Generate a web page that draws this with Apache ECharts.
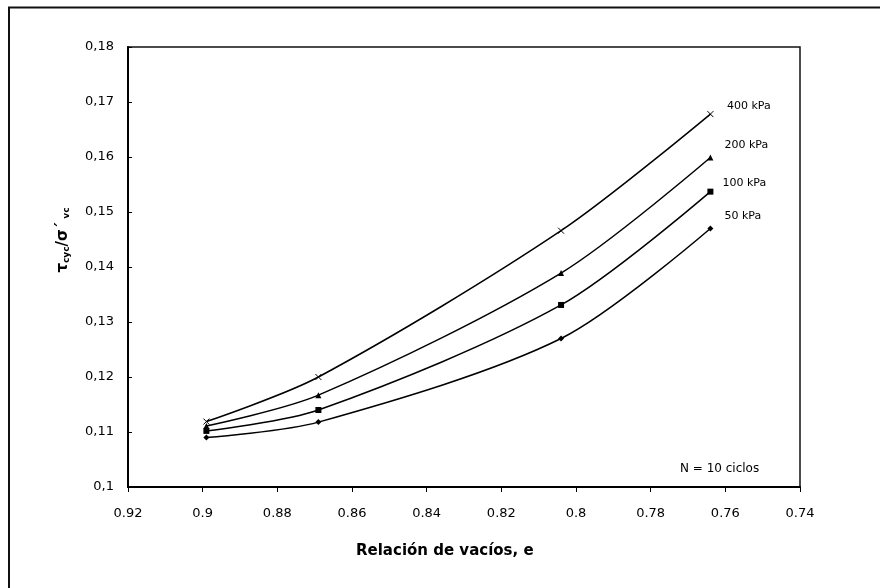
<!DOCTYPE html>
<html>
<head>
<meta charset="utf-8">
<script src="https://cdn.jsdelivr.net/npm/echarts@6/dist/echarts.min.js"></script>
<style>
  html, body { margin: 0; padding: 0; background: #fff; }
  #container { width: 880px; height: 588px; }
</style>
</head>
<body>
<div id="container"></div>
<script>
// void ratio e (x) and cyclic stress ratio for each confining pressure
var voidRatio = [0.899, 0.869, 0.804, 0.764];
var ratio400 = [0.1119, 0.1200, 0.1466, 0.1678];
var ratio200 = [0.1111, 0.1167, 0.1389, 0.1599];
var ratio100 = [0.1102, 0.1140, 0.1331, 0.1537];
var ratio50  = [0.1090, 0.1118, 0.1270, 0.1470];
var seriesNames = ['400 kPa', '200 kPa', '100 kPa', '50 kPa'];
var yTickLabels = ['0,1', '0,11', '0,12', '0,13', '0,14', '0,15', '0,16', '0,17', '0,18'];

var dom = document.getElementById('container');
var myChart = echarts.init(dom, null, { renderer: 'canvas' });

function pairs(ys, labelOffset) {
  return ys.map(function (y, i) {
    var p = { value: [voidRatio[i], y] };
    if (i === ys.length - 1) {
      p.label = { show: true, position: 'right', offset: labelOffset };
    }
    return p;
  });
}

var crossPath = 'path://M0,0L10,10M10,0L0,10';

function lineSeries(name, ys, symbol, size, offset, hollow) {
  return {
    name: name,
    type: 'line',
    smooth: 0.3,
    data: pairs(ys, offset),
    symbol: symbol,
    symbolSize: size,
    lineStyle: { color: '#000', width: 1.5 },
    itemStyle: hollow ? { color: 'none', borderColor: '#000', borderWidth: 1 } : { color: '#000', borderWidth: 0 },
    label: {
      show: false,
      formatter: name,
      color: '#000',
      fontFamily: 'DejaVu Sans',
      fontSize: 11
    },
    emphasis: { disabled: true },
    z: 3
  };
}

var option = {
  animation: false,
  grid: {
    left: 128, right: 80, top: 47, bottom: 101,
    show: true, borderColor: '#111', borderWidth: 1.5
  },
  xAxis: {
    type: 'value',
    min: 0.74, max: 0.92, interval: 0.02,
    inverse: true,
    axisLine: { lineStyle: { color: '#000', width: 2 } },
    axisTick: { show: true, inside: false, length: 5, lineStyle: { color: '#000' } },
    splitLine: { show: false },
    axisLabel: {
      color: '#000', fontFamily: 'DejaVu Sans', fontSize: 13, margin: 20,
      formatter: function (v) { return String(Math.round(v * 100) / 100); }
    }
  },
  yAxis: {
    type: 'value',
    min: 0.1, max: 0.18, interval: 0.01,
    axisLine: { show: true, lineStyle: { color: '#000', width: 2 } },
    axisTick: { show: true, inside: true, length: 4, lineStyle: { color: '#000' } },
    splitLine: { show: false },
    axisLabel: {
      color: '#000', fontFamily: 'DejaVu Sans', fontSize: 13, margin: 14,
      formatter: function (v) { return yTickLabels[Math.round((v - 0.1) * 100)]; }
    }
  },
  series: [
    lineSeries(seriesNames[0], ratio400, crossPath, 6, [6, -8], true),
    lineSeries(seriesNames[1], ratio200, 'triangle', 6, [6, -12], false),
    lineSeries(seriesNames[2], ratio100, 'rect', 6, [4, -9], false),
    lineSeries(seriesNames[3], ratio50, 'diamond', 6, [6, -12], false)
  ],
  graphic: [
    {
      type: 'rect', silent: true, z: -1,
      shape: { x: 9, y: 7.5, width: 900, height: 620 },
      style: { fill: 'none', stroke: '#111', lineWidth: 2 }
    },
    {
      type: 'text', left: 680, top: 463,
      style: { text: 'N = 10 ciclos', fill: '#000', font: '12px "DejaVu Sans"' }
    },
    {
      type: 'text', left: 356, top: 544,
      style: { text: 'Relación de vacíos, e', fill: '#000', font: 'bold 15px "DejaVu Sans"' }
    },
    {
      type: 'text', x: 61, y: 240, rotation: Math.PI / 2,
      style: {
        text: '{t|τ}{s|cyc}{t|/σ´}{s| vc}',
        align: 'center', verticalAlign: 'middle',
        rich: {
          t: { fontFamily: 'DejaVu Sans', fontWeight: 'bold', fontSize: 15, lineHeight: 20, fill: '#000', verticalAlign: 'bottom' },
          s: { fontFamily: 'DejaVu Sans', fontWeight: 'bold', fontSize: 9, lineHeight: 20, fill: '#000', verticalAlign: 'bottom', padding: [6, 0, 0, 0] }
        }
      }
    }
  ]
};

myChart.setOption(option);
window.addEventListener('resize', myChart.resize);
</script>
</body>
</html>
